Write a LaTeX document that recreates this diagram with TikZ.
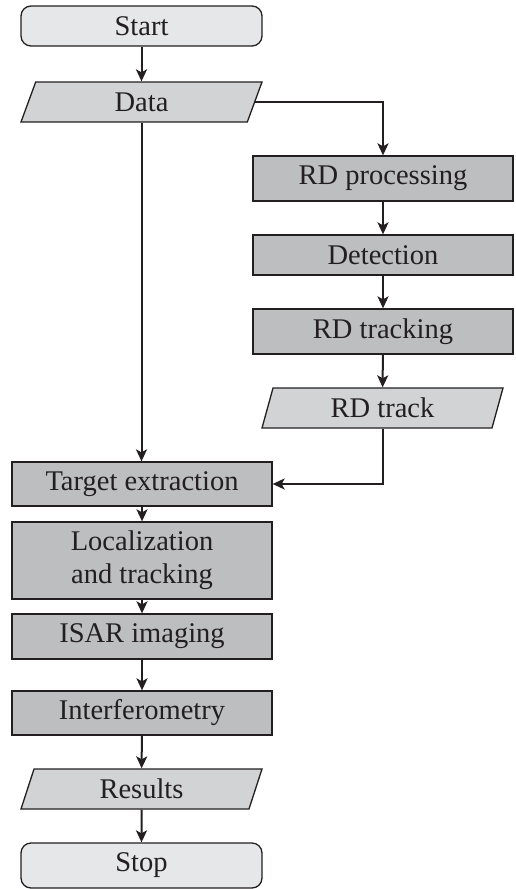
\documentclass[tikz,border=0pt]{standalone}
\usepackage{fontspec}
\setmainfont{Liberation Serif}
\usetikzlibrary{shapes.geometric,arrows.meta}

\definecolor{inkc}{HTML}{231F20}
\definecolor{termfill}{HTML}{E6E7E8}
\definecolor{iofill}{HTML}{D1D3D4}
\definecolor{procfill}{HTML}{BCBEC0}

\tikzset{
  base/.style={draw=inkc, line width=1.3pt, text=inkc, inner sep=0pt,
    font=\fontsize{28.5}{33}\selectfont, align=center},
  terminal/.style={base, fill=termfill, rounded corners=10pt,
    minimum width=241pt},
  procbox/.style={base, fill=procfill, minimum width=260pt},
  iobox/.style={base, fill=iofill, trapezium, trapezium stretches body,
    minimum width=241pt, minimum height=40pt},
  flow/.style={draw=inkc, line width=2pt,
    -{Stealth[length=12pt,width=11pt,inset=3pt]}},
}

\begin{document}
\begin{tikzpicture}[x=1pt,y=-1pt]
  \useasboundingbox (0,0) rectangle (515,889);

  % left column
  \node[terminal, minimum height=40pt] (start) at (141.5,26) {Start};
  \node[iobox, trapezium left angle=52.2, trapezium right angle=127.8]
    (data) at (141.5,102) {Data};

  % range-Doppler branch
  \node[procbox, minimum height=45pt] (rdproc) at (383,178.5) {RD\ processing};
  \node[procbox, minimum height=40pt] (detect) at (383,255) {Detection};
  \node[procbox, minimum height=45pt] (rdtracking) at (383,331.5) {RD tracking};
  \node[iobox, trapezium left angle=61.2, trapezium right angle=118.8]
    (rdtrack) at (382.5,408) {RD track};

  % main chain
  \node[procbox, minimum height=44pt] (target) at (142,484) {Target extraction};
  \node[procbox, minimum height=77pt] (loc) at (142,560.5) {Localization\\and tracking};
  \node[procbox, minimum height=45pt] (isar) at (142,636.5) {ISAR imaging};
  \node[procbox, minimum height=44pt] (interf) at (142,713) {Interferometry};
  \node[iobox, trapezium left angle=57, trapezium right angle=123]
    (results) at (141.5,789) {Results};
  \node[terminal, minimum height=45pt] (stop) at (141.5,865.5) {Stop};

  % connectors
  \draw[flow] (start) -- (data);
  \draw[flow] (data.east) -| (rdproc.north);
  \draw[flow] (rdproc) -- (detect);
  \draw[flow] (detect) -- (rdtracking);
  \draw[flow] (rdtracking) -- (rdtrack);
  \draw[flow] (rdtrack.south) |- (target.east);
  \draw[flow] (data.south) -- (data.south |- target.north);
  \draw[flow] (target) -- (loc);
  \draw[flow] (loc) -- (isar);
  \draw[flow] (isar) -- (interf);
  \draw[flow] (interf) -- (results);
  \draw[flow] (results) -- (stop);
\end{tikzpicture}
\end{document}
